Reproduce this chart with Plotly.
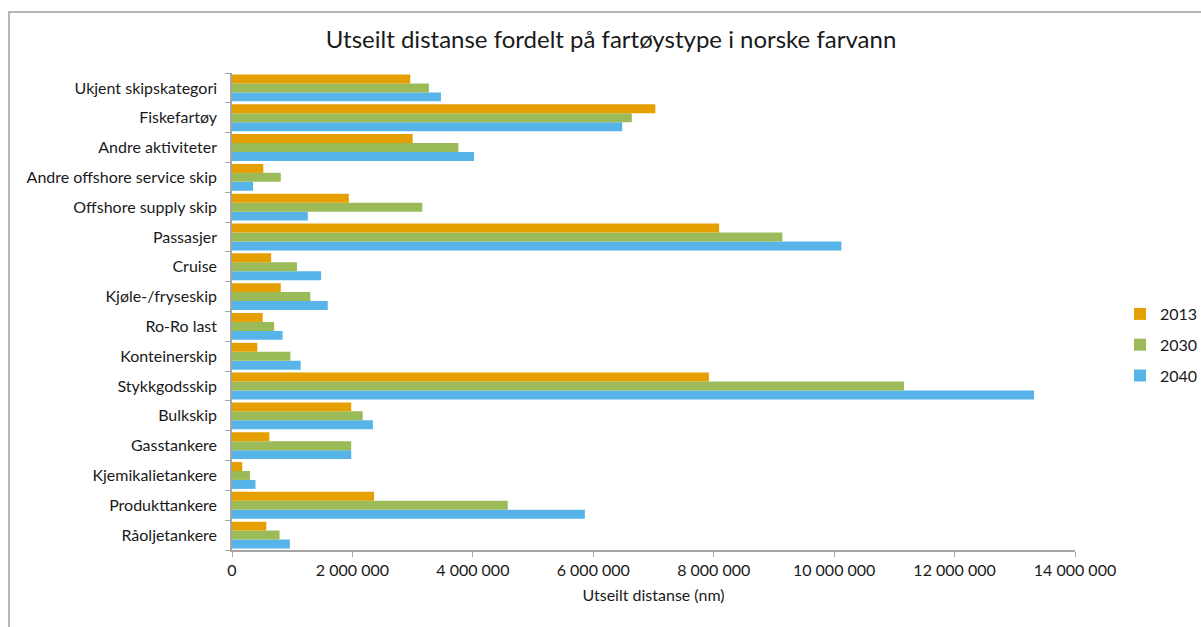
import plotly.graph_objects as go

categories = [
    "Råoljetankere", "Produkttankere", "Kjemikalietankere", "Gasstankere",
    "Bulkskip", "Stykkgodsskip", "Konteinerskip", "Ro-Ro last",
    "Kjøle-/fryseskip", "Cruise", "Passasjer", "Offshore supply skip",
    "Andre offshore service skip", "Andre aktiviteter", "Fiskefartøy",
    "Ukjent skipskategori",
]
v2013 = [570000, 2360000, 170000, 620000, 1980000, 7920000, 420000, 510000,
         810000, 650000, 8090000, 1940000, 520000, 3000000, 7030000, 2960000]
v2030 = [790000, 4580000, 300000, 1980000, 2170000, 11160000, 970000, 700000,
         1300000, 1080000, 9140000, 3160000, 810000, 3760000, 6640000, 3270000]
v2040 = [960000, 5860000, 390000, 1980000, 2340000, 13320000, 1140000, 840000,
         1590000, 1480000, 10120000, 1260000, 350000, 4020000, 6480000, 3470000]

series = [("2040", v2040, "#56B4E9", 3), ("2030", v2030, "#9BBB59", 2), ("2013", v2013, "#E69F00", 1)]

fig = go.Figure()
for name, vals, col, rank in series:
    fig.add_trace(go.Bar(
        y=categories, x=vals, name=name, orientation="h",
        marker=dict(color=col, line=dict(width=0)),
        legendgroup=name, legendrank=rank,
    ))

W, H = 1201, 627
L, R, T, B = 232, 126, 73, 77
pw, ph = W - L - R, H - T - B

font = "Lato, 'Open Sans', sans-serif"
fig.update_layout(
    width=W, height=H,
    margin=dict(l=L, r=R, t=T, b=B, autoexpand=False),
    paper_bgcolor="white", plot_bgcolor="white",
    barmode="group", bargap=0.1, bargroupgap=0,
    separators=", ",
    font=dict(family=font, size=16, color="#1a1a1a"),
    title=dict(text="Utseilt distanse fordelt på fartøystype i norske farvann",
               x=611 / W, xanchor="center", y=1 - 40 / H, yanchor="middle",
               font=dict(family=font, size=24, color="#1a1a1a")),
    legend=dict(xref="container", yref="container",
                x=1120 / W, xanchor="left", y=1 - 297 / H, yanchor="top",
                traceorder="grouped", tracegroupgap=7,
                font=dict(size=16), itemwidth=30, bgcolor="rgba(0,0,0,0)"),
    xaxis=dict(range=[0, 14000000], dtick=2000000, tickformat=",d",
               showgrid=False, zeroline=False, showline=True, linecolor="#A6A6A6",
               linewidth=1.5, ticks="outside", ticklen=5, tickcolor="#A6A6A6",
               tickfont=dict(size=16),
               title=dict(text="Utseilt distanse (nm)", font=dict(size=16), standoff=12)),
    yaxis=dict(showgrid=False, zeroline=False, showline=True, linecolor="#A6A6A6",
               linewidth=1.5, ticks="outside", ticklen=5, tickcolor="#A6A6A6",
               tickson="boundaries", tickfont=dict(size=16), ticklabelstandoff=10),
    shapes=[dict(type="rect", xref="paper", yref="paper",
                 x0=(9 - L) / pw, x1=(W + 10 - L) / pw,
                 y0=(550 - (H + 10)) / ph, y1=(550 - 12) / ph,
                 line=dict(color="#A0A0A0", width=1.5), fillcolor="rgba(0,0,0,0)")],
)

fig.write_html("out.html")
